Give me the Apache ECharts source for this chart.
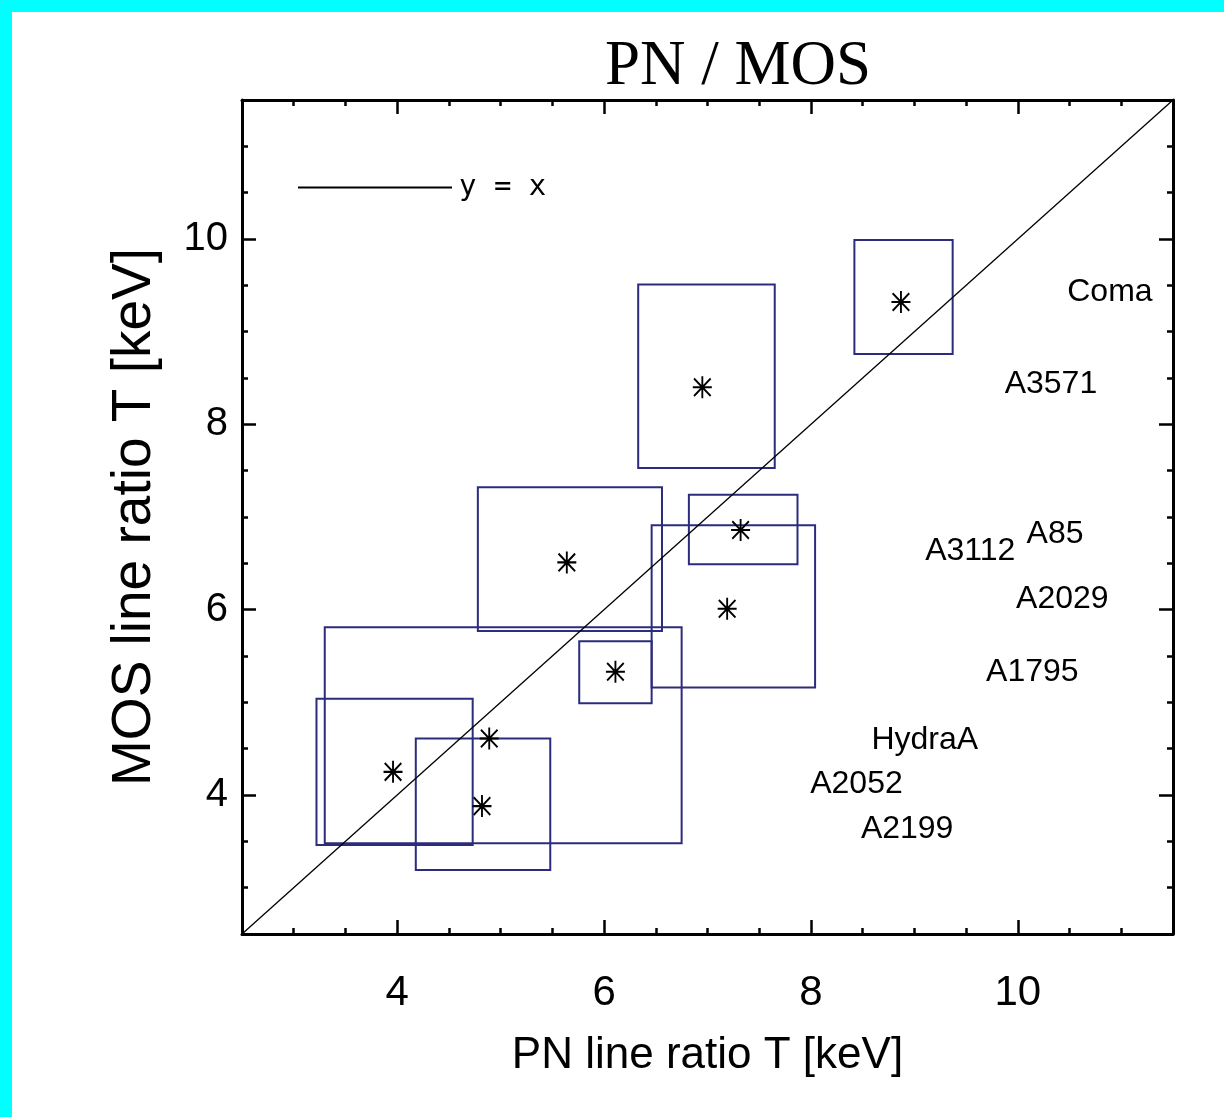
<!DOCTYPE html>
<html>
<head>
<meta charset="utf-8">
<script src="https://cdn.jsdelivr.net/npm/echarts@6/dist/echarts.min.js"></script>
<style>
  html, body { margin: 0; padding: 0; background: #ffffff; }
  #chart { position: absolute; left: 0; top: 0; width: 1224px; height: 1117px; }
  .band-top { position: absolute; left: 0; top: 0; width: 1224px; height: 12px; background: #00ffff; }
  .band-left { position: absolute; left: 0; top: 0; width: 12px; height: 1117px; background: #00ffff; }
</style>
</head>
<body>
<div id="chart"></div>
<div class="band-top"></div>
<div class="band-left"></div>
<script>
// ---- data ----
const clusterNames = ['Coma', 'A3571', 'A85', 'A3112', 'A2029', 'A1795', 'HydraA', 'A2052', 'A2199'];
const pnT    = [8.87, 6.95, 7.32, 5.64, 7.19, 6.11, 4.89, 3.96, 4.82];
const mosT   = [9.32, 8.40, 6.86, 6.51, 6.01, 5.33, 4.61, 4.25, 3.88];
const pnLow  = [8.42, 6.33, 6.82, 4.78, 6.46, 5.76, 3.30, 3.22, 4.18];
const pnHigh = [9.37, 7.65, 7.87, 6.56, 8.04, 6.46, 6.75, 4.73, 5.48];
const mosLow = [8.76, 7.53, 6.49, 5.77, 5.16, 4.99, 3.48, 3.46, 3.19];
const mosHigh= [9.99, 9.51, 7.24, 7.32, 6.91, 5.66, 5.81, 5.04, 4.61];
// label anchor positions (data coordinates)
const labelX = [10.89, 10.32, 10.36, 9.54, 10.43, 10.14, 9.10, 8.44, 8.93];
const labelY = [9.43, 8.43, 6.81, 6.63, 6.11, 5.33, 4.59, 4.12, 3.63];
const lineXY = [[2.5, 2.5], [11.5, 11.5]];
const axisMin = 2.5, axisMax = 11.5;
const majorTicks = [4, 6, 8, 10];
const minorTicks = [3, 3.5, 4.5, 5, 5.5, 6.5, 7, 7.5, 8.5, 9, 9.5, 10.5, 11];

// ---- build ----
const SANS = 'Liberation Sans';
const boxColor = '#2c2c7e';

function axisBase(pos, ticks, len, showLine, labels) {
  return {
    type: 'value', min: axisMin, max: axisMax, position: pos,
    axisLine: { show: showLine, onZero: false, lineStyle: { color: '#000', width: 3 } },
    axisTick: { show: true, inside: true, length: len, customValues: ticks, lineStyle: { color: '#000', width: 2.5 } },
    axisLabel: labels ? Object.assign({ customValues: ticks, color: '#000', fontFamily: SANS }, labels) : { show: false },
    splitLine: { show: false }
  };
}

const xMain = axisBase('bottom', majorTicks, 14, true, { fontSize: 42, margin: 38 });
xMain.name = 'PN line ratio T [keV]';
xMain.nameLocation = 'middle';
xMain.nameGap = 100;
xMain.nameTextStyle = { fontFamily: SANS, fontSize: 44, color: '#000' };

const yMain = axisBase('left', majorTicks, 14, true, { fontSize: 40, margin: 14 });
yMain.name = 'MOS line ratio T [keV]';
yMain.nameLocation = 'middle';
yMain.nameGap = 80;
yMain.nameRotate = 90;
yMain.nameTextStyle = { fontFamily: SANS, fontSize: 55, color: '#000' };

const option = {
  backgroundColor: '#ffffff',
  animation: false,
  title: {
    text: 'PN / MOS', left: 600, top: 31,
    textStyle: { fontFamily: 'Liberation Serif', fontSize: 63, fontWeight: 'normal', color: '#000' }
  },
  legend: {
    data: ['y = x'], left: 293, top: 168, icon: 'rect', itemWidth: 154, itemHeight: 2, itemGap: 0,
    textStyle: { fontFamily: 'DejaVu Sans Mono', fontSize: 29, color: '#000', padding: [0, 0, 0, 2] }
  },
  grid: { left: 242, right: 51, top: 100, bottom: 183, containLabel: false },
  xAxis: [
    xMain,
    axisBase('bottom', minorTicks, 6, false, null),
    axisBase('top', majorTicks, 14, true, null),
    axisBase('top', minorTicks, 6, false, null)
  ],
  yAxis: [
    yMain,
    axisBase('left', minorTicks, 6, false, null),
    axisBase('right', majorTicks, 14, true, null),
    axisBase('right', minorTicks, 6, false, null)
  ],
  series: [
    {
      name: 'y = x', type: 'line', data: lineXY, symbol: 'none',
      lineStyle: { color: '#000', width: 1.3 }, itemStyle: { color: '#000' }, z: 3
    },
    {
      name: 'boxes', type: 'custom',
      data: clusterNames.map((n, i) => [i, pnLow[i], pnHigh[i], mosLow[i], mosHigh[i]]),
      encode: { x: [1, 2], y: [3, 4] },
      renderItem: function (params, api) {
        const p0 = api.coord([api.value(1), api.value(4)]);
        const p1 = api.coord([api.value(2), api.value(3)]);
        return {
          type: 'rect',
          shape: { x: p0[0], y: p0[1], width: p1[0] - p0[0], height: p1[1] - p0[1] },
          style: { fill: 'none', stroke: boxColor, lineWidth: 2 }
        };
      },
      z: 2
    },
    {
      name: 'points', type: 'scatter',
      data: pnT.map((x, i) => [x, mosT[i]]),
      symbol: 'path://M8 0 L8 20 M0 10 L16 10 M1 2 L15 18 M15 2 L1 18',
      symbolSize: [19, 22],
      itemStyle: { color: 'rgba(0,0,0,0)', borderColor: '#000', borderWidth: 2, opacity: 1 },
      z: 4
    },
    {
      name: 'names', type: 'scatter',
      data: clusterNames.map((n, i) => ({ name: n, value: [labelX[i], labelY[i]] })),
      symbolSize: 0,
      itemStyle: { opacity: 1 },
      label: {
        show: true, position: 'inside', formatter: '{b}',
        fontFamily: SANS, fontSize: 32, color: '#000'
      },
      z: 5
    }
  ]
};

const chart = echarts.init(document.getElementById('chart'));
chart.setOption(option);
</script>
</body>
</html>
